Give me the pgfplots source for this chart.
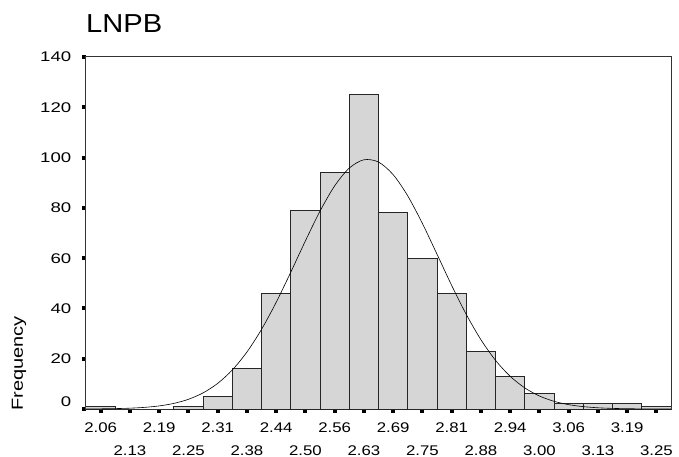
\documentclass[border=0pt]{standalone}
\usepackage{pgfplots}
\pgfplotsset{compat=1.18}
\usepackage{fontspec}
\setmainfont{Liberation Sans}
\newfontfamily\tickf[FakeStretch=1.2]{Liberation Sans}
\newfontfamily\ytickf[FakeStretch=1.33]{Liberation Sans}
\newfontfamily\titlef[FakeStretch=1.12]{Liberation Sans}
\newfontfamily\ylabf[FakeStretch=1.25]{Liberation Sans}
\definecolor{barfill}{RGB}{214,214,214}
\begin{document}
\begin{tikzpicture}
\begin{axis}[
  name=ax,
  scale only axis,
  width=585bp, height=352bp,
  xmin=2.03125, xmax=3.28125,
  ymin=0, ymax=140,
  axis line style={black!80, line width=1bp},
  tick pos=left,
  tick align=outside,
  major tick length=4bp,
  tick style={line width=4bp, black},
  xtick={2.0625,2.125,2.1875,2.25,2.3125,2.375,2.4375,2.5,2.5625,2.625,2.6875,2.75,2.8125,2.875,2.9375,3.0,3.0625,3.125,3.1875,3.25},
  xticklabels={2.06,\raisebox{-23bp}{2.13},2.19,\raisebox{-23bp}{2.25},2.31,\raisebox{-23bp}{2.38},2.44,\raisebox{-23bp}{2.50},2.56,\raisebox{-23bp}{2.63},2.69,\raisebox{-23bp}{2.75},2.81,\raisebox{-23bp}{2.88},2.94,\raisebox{-23bp}{3.00},3.06,\raisebox{-23bp}{3.13},3.19,\raisebox{-23bp}{3.25}},
  ytick={0,20,40,60,80,100,120,140},
  yticklabels={\raisebox{8bp}{0},20,40,60,80,100,120,140},
  xticklabel style={anchor=base, inner sep=0pt, yshift=-19.5bp, font=\tickf\fontsize{14bp}{16bp}\selectfont},
  yticklabel style={anchor=base east, inner sep=0pt, xshift=-10.5bp, yshift=-5bp, font=\ytickf\fontsize{14bp}{16bp}\selectfont},
]
\addplot[ybar interval, fill=barfill, draw=black!85, line width=1bp] coordinates {
(2.03125,1) (2.09375,0) (2.15625,0) (2.21875,1) (2.28125,5) (2.34375,16)
(2.40625,46) (2.46875,79) (2.53125,94) (2.59375,125) (2.65625,78) (2.71875,60)
(2.78125,46) (2.84375,23) (2.90625,13) (2.96875,6) (3.03125,2) (3.09375,2)
(3.15625,2) (3.21875,1) (3.28125,1)
};
\addplot[smooth, black, line width=0.6bp] coordinates {
(2.03125,0.033) (2.0625,0.074) (2.09375,0.159) (2.125,0.328) (2.15625,0.648)
(2.1875,1.225) (2.21875,2.218) (2.25,3.846) (2.28125,6.392) (2.3125,10.17)
(2.34375,15.50) (2.375,22.63) (2.40625,31.65) (2.4375,42.39) (2.46875,54.39)
(2.5,66.84) (2.53125,78.69) (2.5625,88.72) (2.59375,95.81) (2.625,99.12)
(2.65625,98.22) (2.6875,93.22) (2.71875,84.76) (2.75,73.81) (2.78125,61.57)
(2.8125,49.19) (2.84375,37.64) (2.875,27.59) (2.90625,19.37) (2.9375,13.03)
(2.96875,8.396) (3.0,5.181) (3.03125,3.063) (3.0625,1.734) (3.09375,0.940)
(3.125,0.488) (3.15625,0.243) (3.1875,0.116) (3.21875,0.053) (3.25,0.023)
(3.28125,0.0097)
};
\end{axis}
\node[anchor=base west, inner sep=0pt, font=\titlef\fontsize{26bp}{30bp}\selectfont] at ([yshift=24.5bp]ax.north west) {LNPB};
\node[rotate=90, anchor=west, inner sep=0pt, font=\ylabf\fontsize{16bp}{19bp}\selectfont] at ([xshift=-67bp, yshift=-2bp]ax.south west) {Frequency};
\pgfresetboundingbox
\path[use as bounding box] ([xshift=-86bp, yshift=-48bp]ax.south west) rectangle ([xshift=8bp, yshift=57bp]ax.north east);
\end{tikzpicture}
\end{document}
